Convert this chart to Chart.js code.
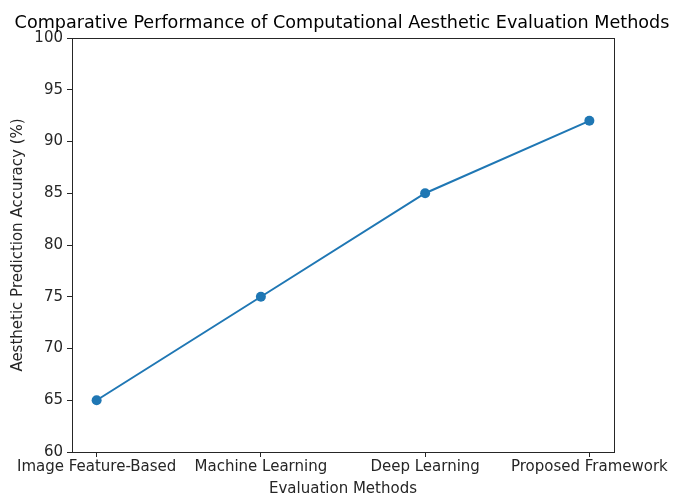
<!DOCTYPE html>
<html>
<head>
<meta charset="utf-8">
<script src="https://cdn.jsdelivr.net/npm/chart.js@4/dist/chart.umd.min.js"></script>
<style>
html,body{margin:0;padding:0;background:#fff;}
#wrap{width:675px;height:496px;position:relative;}
</style>
</head>
<body>
<div id="wrap"><canvas id="c" width="675" height="496"></canvas></div>
<script>
const categories = ["Image Feature-Based", "Machine Learning", "Deep Learning", "Proposed Framework"];
const accuracy = [65, 75, 85, 92];
const yTicks = [60, 65, 70, 75, 80, 85, 90, 95, 100];
const chartTitle = "Comparative Performance of Computational Aesthetic Evaluation Methods";
const xTitle = "Evaluation Methods";
const yTitle = "Aesthetic Prediction Accuracy (%)";

const FONT = "'DejaVu Sans', sans-serif";
const INK = "#262626";

const framePlugin = {
  id: 'frame',
  afterDraw(chart) {
    const {ctx, chartArea: a} = chart;
    ctx.save();
    ctx.strokeStyle = INK;
    ctx.lineWidth = 1;
    ctx.strokeRect(Math.round(a.left) + 0.5, Math.round(a.top) + 0.5, Math.round(a.right - a.left), Math.round(a.bottom - a.top));
    ctx.fillStyle = "#000";
    ctx.font = "17.6px " + FONT;
    ctx.textAlign = "center";
    ctx.textBaseline = "middle";
    ctx.fillText(chartTitle, 342, 23);
    ctx.restore();
  }
};

new Chart(document.getElementById('c'), {
  type: 'line',
  data: {
    datasets: [{
      data: accuracy.map((v, i) => ({x: i, y: v})),
      borderColor: '#1f77b4',
      backgroundColor: '#1f77b4',
      borderWidth: 2,
      pointRadius: 5,
      pointHoverRadius: 5,
      pointBorderWidth: 0,
      tension: 0
    }]
  },
  options: {
    responsive: false,
    animation: false,
    events: [],
    layout: {padding: {left: 0, right: 61, top: 38, bottom: 0}},
    plugins: {legend: {display: false}, tooltip: {enabled: false}, title: {display: false}},
    scales: {
      x: {
        type: 'linear',
        min: -0.15,
        max: 3.15,
        afterBuildTicks(s) { s.ticks = categories.map((c, i) => ({value: i})); },
        afterFit(s) { s.height = 44; },
        ticks: {
          autoSkip: false,
          maxRotation: 0,
          padding: 1,
          color: INK,
          font: {family: FONT, size: 15},
          callback: (v) => categories[v]
        },
        grid: {display: true, drawOnChartArea: false, drawTicks: true, tickLength: 5, tickColor: INK, tickWidth: 1},
        border: {display: true, color: INK, width: 1},
        title: {display: true, text: xTitle, color: INK, font: {family: FONT, size: 15}, padding: {top: 0, bottom: -2}}
      },
      y: {
        min: 60,
        max: 100,
        afterBuildTicks(s) { s.ticks = yTicks.map(v => ({value: v})); },
        afterFit(s) { s.width = 72; },
        ticks: {
          padding: 4,
          color: INK,
          font: {family: FONT, size: 15}
        },
        grid: {display: true, drawOnChartArea: false, drawTicks: true, tickLength: 5, tickColor: INK, tickWidth: 1},
        border: {display: true, color: INK, width: 1},
        title: {display: true, text: yTitle, color: INK, font: {family: FONT, size: 15}, padding: {top: 9, bottom: 0}}
      }
    }
  },
  plugins: [framePlugin]
});
</script>
</body>
</html>
